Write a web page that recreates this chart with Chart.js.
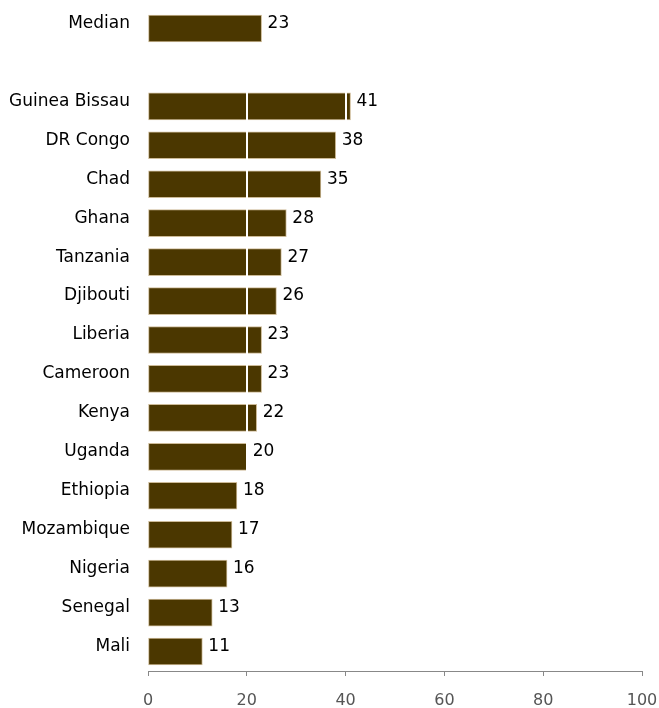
<!DOCTYPE html>
<html>
<head>
<meta charset="utf-8">
<script src="https://cdn.jsdelivr.net/npm/chart.js@4.4.1/dist/chart.umd.min.js"></script>
<style>
  html, body { margin: 0; padding: 0; background: #fff; }
  #wrap { width: 659px; height: 708px; }
</style>
</head>
<body>
<div id="wrap"><canvas id="barChart"></canvas></div>
<script>
// categories (blank entry = spacer row between median and countries)
const categories = ['Median', '', 'Guinea Bissau', 'DR Congo', 'Chad', 'Ghana', 'Tanzania',
  'Djibouti', 'Liberia', 'Cameroon', 'Kenya', 'Uganda', 'Ethiopia', 'Mozambique',
  'Nigeria', 'Senegal', 'Mali'];
const values = [23, null, 41, 38, 35, 28, 27, 26, 23, 23, 22, 20, 18, 17, 16, 13, 11];
const xTicks = [0, 20, 40, 60, 80, 100];
const whiteLines = [20, 40];

const FONT = 'DejaVu Sans';

// value labels at the end of each bar (sit a little above the bar centre)
const valueLabels = {
  id: 'valueLabels',
  afterDatasetsDraw(chart) {
    const ctx = chart.ctx;
    const meta = chart.getDatasetMeta(0);
    ctx.save();
    ctx.font = '17px "' + FONT + '"';
    ctx.fillStyle = '#000';
    ctx.textBaseline = 'middle';
    ctx.textAlign = 'left';
    meta.data.forEach((bar, i) => {
      if (values[i] == null) return;
      ctx.fillText(String(values[i]), bar.x + 6, bar.y - 5);
    });
    ctx.restore();
  }
};

// white reference lines over the country bars
const whiteGrid = {
  id: 'whiteGrid',
  afterDatasetsDraw(chart) {
    const ctx = chart.ctx;
    const x = chart.scales.x, y = chart.scales.y;
    const top = (y.getPixelForValue(1) + y.getPixelForValue(2)) / 2;
    const bottom = chart.chartArea.bottom;
    ctx.save();
    ctx.strokeStyle = '#fff';
    ctx.lineWidth = 2;
    whiteLines.forEach(v => {
      const px = Math.round(x.getPixelForValue(v));
      ctx.beginPath();
      ctx.moveTo(px, top);
      ctx.lineTo(px, bottom);
      ctx.stroke();
    });
    ctx.restore();
  }
};

new Chart(document.getElementById('barChart').getContext('2d'), {
  type: 'bar',
  data: {
    labels: categories,
    datasets: [{
      data: values,
      backgroundColor: '#4b3700',
      borderColor: '#cdbb98',
      borderWidth: 1,
      borderSkipped: false,
      barThickness: 27
    }]
  },
  options: {
    indexAxis: 'y',
    responsive: true,
    maintainAspectRatio: false,
    animation: false,
    layout: { padding: { top: 9, right: 17, left: 0, bottom: 0 } },
    plugins: {
      legend: { display: false },
      tooltip: { enabled: false }
    },
    scales: {
      x: {
        min: 0,
        max: 100,
        afterBuildTicks: (axis) => { axis.ticks = xTicks.map(v => ({ value: v })); },
        afterFit: (axis) => {
          axis.height = 37;
          axis.paddingLeft = 0;
          axis.paddingRight = 0;
        },
        grid: { drawOnChartArea: false, tickLength: 5, color: '#888' },
        border: { display: true, color: '#888', width: 1 },
        ticks: { color: '#555', padding: 15, font: { family: FONT, size: 16 } }
      },
      y: {
        afterFit: (axis) => {
          axis.width = 148;
          axis.paddingTop = 0;
          axis.paddingBottom = 0;
        },
        grid: { display: false, tickLength: 0 },
        border: { display: false },
        ticks: { color: '#000', padding: 18, labelOffset: -5, font: { family: FONT, size: 17 } }
      }
    }
  },
  plugins: [whiteGrid, valueLabels]
});
</script>
</body>
</html>
